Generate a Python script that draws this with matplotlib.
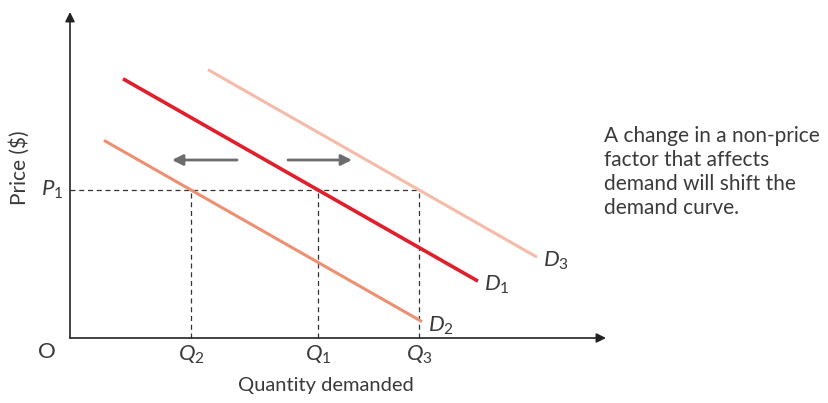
import matplotlib
matplotlib.use("Agg")
import matplotlib.pyplot as plt

plt.rcParams['font.family'] = ['Lato', 'DejaVu Sans']
plt.rcParams['mathtext.fontset'] = 'custom'
plt.rcParams['mathtext.it'] = 'Lato:italic'
plt.rcParams['mathtext.rm'] = 'Lato'

# demand curves: P = intercept + slope * Q, drawn between q_start and q_end
curve_names = ['D1', 'D2', 'D3']
intercepts = [28.94, 21.70, 34.70]
slope = -0.57
q_start = [5.3, 3.4, 13.8]
q_end = [40.8, 35.2, 46.7]
curve_colors = ['#e31e2a', '#ef8f72', '#f5bba8']
curve_widths = [2.6, 2.2, 2.2]
curve_labels = [r'$D_1$', r'$D_2$', r'$D_3$']

p1 = 14.8
q_marks = [24.8, 12.1, 34.9]          # Q1, Q2, Q3
q_labels = [r'$Q_1$', r'$Q_2$', r'$Q_3$']

ink = '#3a3a3a'

fig = plt.figure(figsize=(8.29, 4.03), dpi=100)
ax = fig.add_axes([0, 0, 1, 1])
ax.set_xlim(-7, 75.9)
ax.set_ylim(-6.5, 33.8)
ax.axis('off')

# axes with arrow heads
ax.annotate('', xy=(53.6, 0), xytext=(0, 0),
            arrowprops=dict(arrowstyle='-|>', color='#222222', lw=1.2,
                            mutation_scale=14, shrinkA=0, shrinkB=0))
ax.annotate('', xy=(0, 32.6), xytext=(0, 0),
            arrowprops=dict(arrowstyle='-|>', color='#222222', lw=1.2,
                            mutation_scale=14, shrinkA=0, shrinkB=0))

# dashed guides at P1
ax.plot([0, max(q_marks)], [p1, p1], ls=(0, (4, 3)), color='#333333', lw=0.9)
for q in q_marks:
    ax.plot([q, q], [0, p1], ls=(0, (4, 3)), color='#333333', lw=0.9)

for name, a, q0, q1, c, w, lab in zip(curve_names, intercepts, q_start, q_end,
                                      curve_colors, curve_widths, curve_labels):
    ax.plot([q0, q1], [a + slope * q0, a + slope * q1], color=c, lw=w,
            solid_capstyle='butt')
    ax.text(q1 + 0.6, a + slope * q1 - 0.4, lab, fontsize=16, color=ink,
            ha='left', va='center')

# shift arrows
ax.annotate('', xy=(10.2, 17.8), xytext=(16.7, 17.8),
            arrowprops=dict(arrowstyle='-|>', color='#6d6d70', lw=2,
                            mutation_scale=16, shrinkA=0, shrinkB=0))
ax.annotate('', xy=(28.2, 17.8), xytext=(21.8, 17.8),
            arrowprops=dict(arrowstyle='-|>', color='#6d6d70', lw=2,
                            mutation_scale=16, shrinkA=0, shrinkB=0))

for q, lab in zip(q_marks, q_labels):
    ax.text(q, -1.7, lab, fontsize=16, color=ink, ha='center', va='center')
ax.text(-2.3, -1.4, 'O', fontsize=16, color=ink, ha='center', va='center')
ax.text(-1.8, p1, r'$P_1$', fontsize=16, color=ink, ha='center', va='center')

ax.text(25.6, -4.8, 'Quantity demanded', fontsize=14.5, color=ink,
        ha='center', va='center')
ax.text(-5.0, 17.0, 'Price ($)', fontsize=15, color=ink, rotation=90,
        ha='center', va='center')

ax.text(53.4, 21.2, 'A change in a non-price\nfactor that affects\n'
        'demand will shift the\ndemand curve.', fontsize=15, color=ink,
        ha='left', va='top', linespacing=1.25)

fig.savefig('out.png', dpi=100, facecolor='white')
